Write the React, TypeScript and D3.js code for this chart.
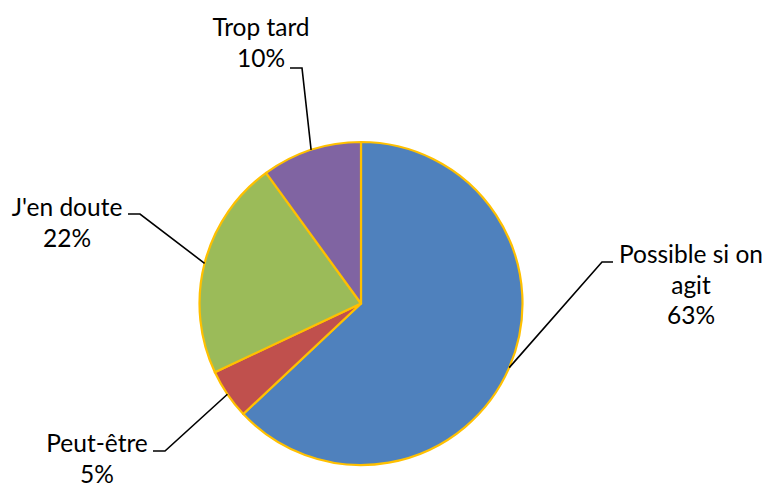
import React from "react";
import * as d3 from "d3";

const categories = ["Possible si on agit", "Peut-être", "J'en doute", "Trop tard"];
const values = [63, 5, 22, 10];
const labelLines = [["Possible si on", "agit", "63%"], ["Peut-être", "5%"], ["J'en doute", "22%"], ["Trop tard", "10%"]];
const colors = ["#4F81BD", "#C0504D", "#9BBB59", "#8064A2"];

// layout: label center x, first baseline, elbow start (x,y) near text, elbow end x
const labelLayout = [
  { cx: 691, y0: 263, hx1: 613, hx2: 602, hy: 262 },
  { cx: 97, y0: 452, hx1: 153, hx2: 165, hy: 451 },
  { cx: 67, y0: 216, hx1: 128, hx2: 140, hy: 214 },
  { cx: 261, y0: 36, hx1: 290, hx2: 302, hy: 68 },
];

export default function App() {
  const W = 765, H = 484;
  const cx = 361, cy = 303.5, r = 161.5;
  const pie = d3.pie<number>().sort(null).value((d) => d)(values);
  const arc = d3.arc<d3.PieArcDatum<number>>().innerRadius(0).outerRadius(r);
  const lineH = 30.5;
  const font = "Lato, 'Open Sans', sans-serif";
  return (
    <svg width={W} height={H} style={{ position: "absolute", left: 0, top: 0 }}>
      <rect width={W} height={H} fill="#fff" />
      <g transform={`translate(${cx},${cy})`}>
        {pie.map((p, i) => (
          <path key={categories[i]} d={arc(p) || ""} fill={colors[i]} stroke="#FFC000" strokeWidth={2.2} strokeLinejoin="round" />
        ))}
      </g>
      {pie.map((p, i) => {
        const L = labelLayout[i];
        const a = (p.startAngle + p.endAngle) / 2;
        const px = cx + r * Math.sin(a);
        const py = cy - r * Math.cos(a);
        return (
          <g key={"l" + i}>
            <polyline points={`${L.hx1},${L.hy} ${L.hx2},${L.hy} ${px},${py}`} fill="none" stroke="#000" strokeWidth={1.6} />
            <text textAnchor="middle" fontFamily={font} fontSize={24.5} fill="#000">
              {labelLines[i].map((t, j) => (
                <tspan key={j} x={L.cx} y={L.y0 + j * lineH}>{t}</tspan>
              ))}
            </text>
          </g>
        );
      })}
    </svg>
  );
}
